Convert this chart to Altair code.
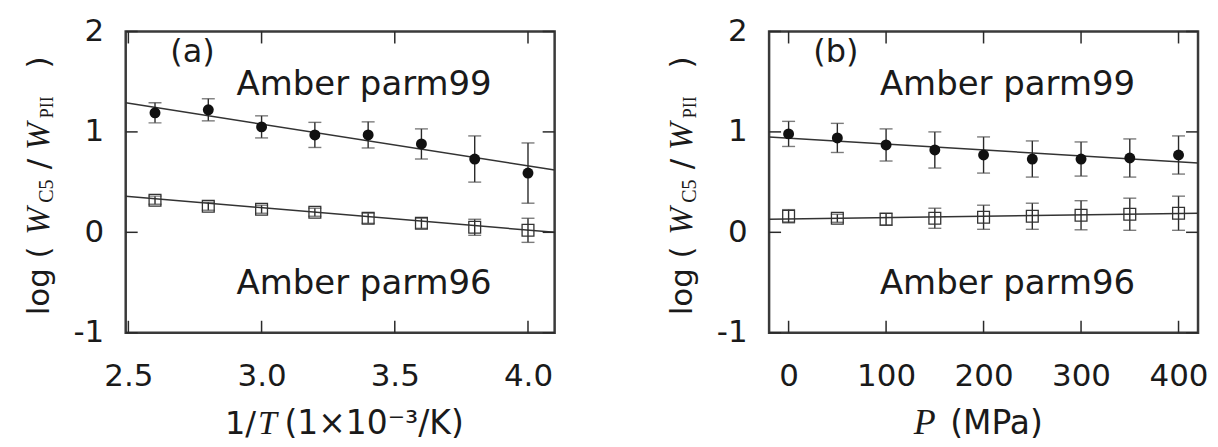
import altair as alt
import pandas as pd

# ---- data ----
x_a = [2.6, 2.8, 3.0, 3.2, 3.4, 3.6, 3.8, 4.0]
a99 = [1.19, 1.22, 1.05, 0.97, 0.97, 0.88, 0.73, 0.59]
a99_err = [0.10, 0.11, 0.11, 0.125, 0.13, 0.15, 0.23, 0.30]
a96 = [0.32, 0.26, 0.23, 0.20, 0.14, 0.09, 0.05, 0.02]
a96_err = [0.04, 0.04, 0.04, 0.04, 0.05, 0.05, 0.08, 0.12]
fit_a_x = [2.49, 4.1]
fit_a99 = [1.29, 0.62]
fit_a96 = [0.36, 0.0]

x_b = [0, 50, 100, 150, 200, 250, 300, 350, 400]
b99 = [0.98, 0.94, 0.87, 0.82, 0.77, 0.73, 0.73, 0.74, 0.77]
b99_err = [0.125, 0.145, 0.16, 0.18, 0.18, 0.18, 0.17, 0.19, 0.19]
b96 = [0.16, 0.14, 0.13, 0.14, 0.15, 0.16, 0.17, 0.18, 0.19]
b96_err = [0.066, 0.04, 0.06, 0.10, 0.12, 0.13, 0.145, 0.16, 0.17]
fit_b_x = [-20, 420]
fit_b99 = [0.95, 0.69]
fit_b96 = [0.13, 0.19]

y_ticks = [-1, 0, 1, 2]
x_ticks_a = [2.5, 3.0, 3.5, 4.0]
x_ticks_b = [0, 100, 200, 300, 400]

W, H = 430, 302
TK = 12
INK = "#2a2a2a"
SANS = "DejaVu Sans"
SERIF = "Liberation Serif"


def txt(s, x, y, size, font=SANS, style="normal", angle=0, align="center", baseline="alphabetic"):
    return alt.Chart(pd.DataFrame({"t": [s]})).mark_text(
        font=font, fontSize=size, fontStyle=style, angle=angle,
        align=align, baseline=baseline, color="#1a1a1a"
    ).encode(text="t:N", x=alt.value(x), y=alt.value(y))


def panel(xv, s99, e99, s96, e96, fx, f99, f96, xdom, xticks, xfmt, tag, title_parts):
    xs = alt.Scale(domain=xdom, nice=False, zero=False)
    ys = alt.Scale(domain=[-1, 2], nice=False, zero=False)
    xaxis = alt.Axis(values=xticks, format=xfmt, title=None, labelPadding=29, orient="bottom",
                     ticks=False, domain=False, grid=False, labelFont=SANS, labelFontSize=31,
                     labelColor="#1a1a1a")
    yaxis = alt.Axis(values=y_ticks, labelExpr="''+datum.value", title=None, labelPadding=22,
                     orient="left", ticks=False, domain=False, grid=False, labelFont=SANS,
                     labelFontSize=31, labelColor="#1a1a1a")
    pts = pd.DataFrame({
        "x": xv * 2,
        "y": s99 + s96,
        "lo": [v - e for v, e in zip(s99, e99)] + [v - e for v, e in zip(s96, e96)],
        "hi": [v + e for v, e in zip(s99, e99)] + [v + e for v, e in zip(s96, e96)],
        "s": ["parm99"] * len(xv) + ["parm96"] * len(xv),
    })
    fit = pd.DataFrame({"x": fx * 2, "y": f99 + f96, "s": ["parm99"] * 2 + ["parm96"] * 2})
    X = lambda f="x": alt.X(f + ":Q", scale=xs, axis=xaxis)
    Y = lambda f="y": alt.Y(f + ":Q", scale=ys, axis=yaxis)

    lines = alt.Chart(fit).mark_line(color="#333333", strokeWidth=1.5).encode(
        x=X(), y=Y(), detail="s:N")
    bars = alt.Chart(pts).mark_rule(color=INK, strokeWidth=1.4).encode(
        x=X(), y=Y("lo"), y2="hi:Q")
    cap_lo = alt.Chart(pts).mark_tick(orient="horizontal", size=13, thickness=1.4, color="#444").encode(
        x=X(), y=Y("lo"))
    cap_hi = alt.Chart(pts).mark_tick(orient="horizontal", size=13, thickness=1.4, color="#444").encode(
        x=X(), y=Y("hi"))
    circ = alt.Chart(pts[pts.s == "parm99"]).mark_point(
        shape="circle", filled=True, size=120, color="#111111", opacity=1).encode(x=X(), y=Y())
    sq = alt.Chart(pts[pts.s == "parm96"]).mark_point(
        shape="square", filled=False, size=140, color="#333333", strokeWidth=1.3, opacity=1).encode(x=X(), y=Y())

    yt = pd.DataFrame({"v": y_ticks})
    xt = pd.DataFrame({"v": xticks})
    left = alt.Chart(yt).mark_rule(color=INK, strokeWidth=1.5).encode(
        y=Y("v"), x=alt.value(0), x2=alt.value(TK))
    right = alt.Chart(yt).mark_rule(color=INK, strokeWidth=1.5).encode(
        y=Y("v"), x=alt.value(W - TK), x2=alt.value(W))
    bottom = alt.Chart(xt).mark_rule(color=INK, strokeWidth=1.5).encode(
        x=X("v"), y=alt.value(H - TK), y2=alt.value(H))
    top = alt.Chart(xt).mark_rule(color=INK, strokeWidth=1.5).encode(
        x=X("v"), y=alt.value(0), y2=alt.value(TK))

    texts = [
        txt(tag, 67, 21, 32, baseline="middle"),
        txt("Amber parm99", 239, 64, 34),
        txt("Amber parm96", 239, 263, 34),
        # y title pieces (rotated)
        txt("log (", -77, 250, 31, angle=270),
        txt("W", -77, 190, 33, font=SERIF, style="italic", angle=270),
        txt("C5", -73, 160, 20, font=SERIF, angle=270),
        txt("/", -77, 133, 31, angle=270),
        txt("W", -77, 105, 33, font=SERIF, style="italic", angle=270),
        txt("PII", -73, 76, 18, font=SERIF, angle=270),
        txt(")", -77, 31, 31, angle=270),
    ]
    for (s, x, f, st, fs) in title_parts:
        texts.append(txt(s, x, 404, fs, font=f, style=st))

    return alt.layer(lines, bars, cap_lo, cap_hi, sq, circ, left, right, bottom, top, *texts).properties(
        width=W, height=H)


pa = panel(x_a, a99, a99_err, a96, a96_err, fit_a_x, fit_a99, fit_a96, [2.49, 4.1], x_ticks_a, ".1f", "(a)",
           [("1/", 115, SANS, "normal", 32), ("T", 142, SERIF, "italic", 34),
            ("(1×10⁻³/K)", 249, SANS, "normal", 33)])
pb = panel(x_b, b99, b99_err, b96, b96_err, fit_b_x, fit_b99, fit_b96, [-20, 420], x_ticks_b, "d", "(b)",
           [("P", 156, SERIF, "italic", 36), ("(MPa)", 228, SANS, "normal", 33)])

chart = alt.hconcat(pa, pb, spacing=215, bounds="flush").properties(
    padding={"left": 13, "top": 5, "right": 0, "bottom": 0},
    background="white"
).configure_view(stroke="#3a3a3a", strokeWidth=2.5)

chart.save("out.html", embed_options={"renderer": "svg", "actions": False})
